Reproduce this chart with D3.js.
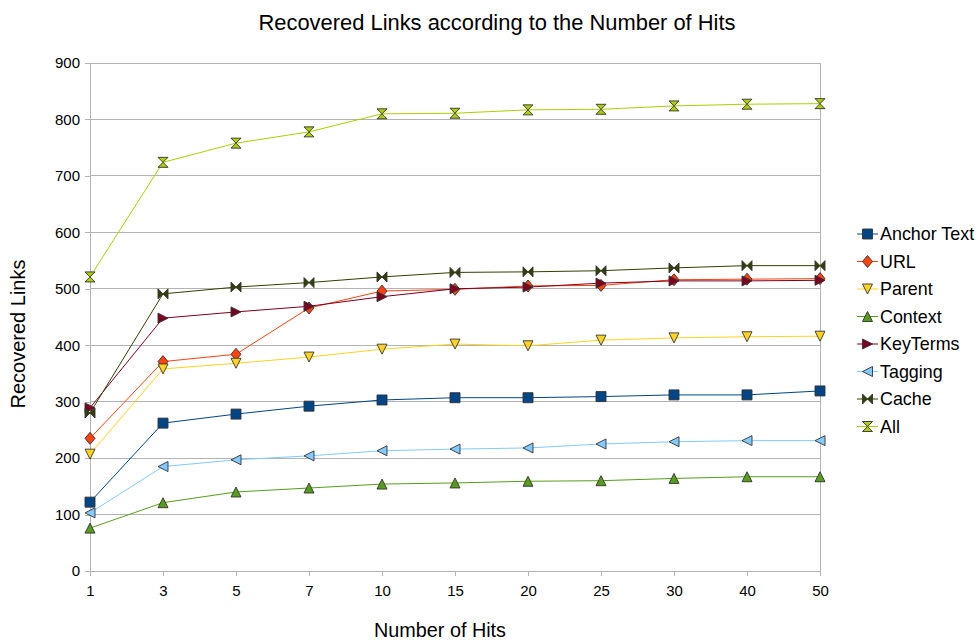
<!DOCTYPE html>
<html>
<head>
<meta charset="utf-8">
<script src="https://cdn.jsdelivr.net/npm/d3@7"></script>
<style>
  html, body { margin: 0; padding: 0; background: #fff; }
  svg { display: block; font-family: "Liberation Sans", Arial, sans-serif; }
</style>
</head>
<body>
<svg id="chart" width="978" height="640"></svg>
<script>
// Number of hits considered (categorical x axis)
const hits = ["1", "3", "5", "7", "10", "15", "20", "25", "30", "40", "50"];

// Recovered links per feature
const anchorText = [122, 262, 278, 292, 303, 307, 307, 309, 312, 312, 319];
const url        = [235, 371, 384, 466, 496, 499, 505, 506, 516, 517, 518];
const parent     = [207, 358, 368, 379, 393, 402, 399, 409, 413, 415, 416];
const context    = [76, 121, 140, 147, 154, 156, 159, 160, 164, 167, 167];
const keyTerms   = [289, 448, 459, 469, 486, 500, 503, 510, 514, 514, 515];
const tagging    = [103, 185, 197, 204, 213, 216, 218, 225, 229, 231, 231];
const cache      = [280, 491, 503, 511, 521, 529, 530, 532, 537, 541, 541];
const all        = [521, 724, 758, 778, 810, 811, 817, 818, 824, 827, 828];

const yTicks = [0, 100, 200, 300, 400, 500, 600, 700, 800, 900];

const series = [
  { name: "Anchor Text", values: anchorText, color: "#004586", shape: "square" },
  { name: "URL",         values: url,        color: "#ff420e", shape: "diamond" },
  { name: "Parent",      values: parent,     color: "#ffd320", shape: "down" },
  { name: "Context",     values: context,    color: "#579d1c", shape: "up" },
  { name: "KeyTerms",    values: keyTerms,   color: "#7e0021", shape: "right" },
  { name: "Tagging",     values: tagging,    color: "#83caff", shape: "left" },
  { name: "Cache",       values: cache,      color: "#314004", shape: "bowtie" },
  { name: "All",         values: all,        color: "#aecf00", shape: "hourglass" }
];

const svg = d3.select("#chart");
const plot = { left: 90, right: 820, top: 63, bottom: 571 };

const x = d3.scalePoint().domain(hits).range([plot.left, plot.right]);
const y = d3.scaleLinear().domain([0, 900]).range([plot.bottom, plot.top]);

const gridColor = "#b3b3b3";

// Horizontal gridlines
svg.append("g")
  .selectAll("line")
  .data(yTicks)
  .join("line")
  .attr("x1", plot.left).attr("x2", plot.right)
  .attr("y1", d => y(d)).attr("y2", d => y(d))
  .attr("stroke", gridColor).attr("stroke-width", 1)
  .attr("shape-rendering", "crispEdges");

// Right border of the plot area
svg.append("line")
  .attr("x1", plot.right).attr("x2", plot.right)
  .attr("y1", plot.top).attr("y2", plot.bottom)
  .attr("stroke", gridColor).attr("shape-rendering", "crispEdges");

// Y axis
const yAxis = svg.append("g")
  .attr("transform", `translate(${plot.left},0)`)
  .call(d3.axisLeft(y).tickValues(yTicks).tickSize(5).tickPadding(5));
yAxis.select(".domain").attr("stroke", gridColor).attr("shape-rendering", "crispEdges");
yAxis.selectAll(".tick line").attr("stroke", gridColor).attr("shape-rendering", "crispEdges");
yAxis.selectAll(".tick text").attr("font-size", 15).attr("fill", "#000")
  .attr("font-family", "Liberation Sans, Arial, sans-serif");

// X axis
const xAxis = svg.append("g")
  .attr("transform", `translate(0,${plot.bottom})`)
  .call(d3.axisBottom(x).tickSize(5).tickPadding(9));
xAxis.select(".domain").attr("stroke", gridColor).attr("shape-rendering", "crispEdges");
xAxis.selectAll(".tick line").attr("stroke", gridColor).attr("shape-rendering", "crispEdges");
xAxis.selectAll(".tick text").attr("font-size", 15).attr("fill", "#000")
  .attr("font-family", "Liberation Sans, Arial, sans-serif");

// Marker outlines for each symbol type, centred on the origin
function markerPath(shape, r) {
  switch (shape) {
    case "square": return `M${-r},${-r}H${r}V${r}H${-r}Z`;
    case "diamond": return `M0,${-r - 1}L${r},0L0,${r + 1}L${-r},0Z`;
    case "down": return `M${-r},${-r}H${r}L0,${r}Z`;
    case "up": return `M${-r},${r}H${r}L0,${-r}Z`;
    case "right": return `M${-r},${-r}L${r},0L${-r},${r}Z`;
    case "left": return `M${r},${-r}L${-r},0L${r},${r}Z`;
    case "bowtie": return `M${-r},${-r}L0,0L${-r},${r}Z M${r},${-r}L0,0L${r},${r}Z`;
    case "hourglass": return `M${-r},${-r}H${r}L0,0Z M${-r},${r}H${r}L0,0Z`;
  }
}

const line = d3.line().x((d, i) => x(hits[i])).y(d => y(d));

// Series lines
svg.append("g")
  .selectAll("path")
  .data(series)
  .join("path")
  .attr("d", s => line(s.values))
  .attr("fill", "none")
  .attr("stroke", s => s.color)
  .attr("stroke-width", 1);

// Series markers
series.forEach(s => {
  svg.append("g")
    .selectAll("path")
    .data(s.values)
    .join("path")
    .attr("transform", (d, i) => `translate(${x(hits[i])},${y(d)})`)
    .attr("d", markerPath(s.shape, 5))
    .attr("fill", s.color)
    .attr("stroke", "#333")
    .attr("stroke-width", 0.9)
    .attr("stroke-linejoin", "miter");
});

// Legend
const legend = svg.append("g").attr("transform", "translate(857,234)");
const rows = legend.selectAll("g")
  .data(series)
  .join("g")
  .attr("transform", (d, i) => `translate(0,${i * 27.5})`);
rows.append("line")
  .attr("x1", 0).attr("x2", 21).attr("y1", 0).attr("y2", 0)
  .attr("stroke", d => d.color).attr("stroke-width", 1);
rows.append("path")
  .attr("transform", "translate(10.5,0)")
  .attr("d", d => markerPath(d.shape, 5))
  .attr("fill", d => d.color)
  .attr("stroke", "#333")
  .attr("stroke-width", 0.9);
rows.append("text")
  .attr("x", 23).attr("y", 0).attr("dy", "0.35em")
  .attr("font-size", 17.9)
  .text(d => d.name);

// Title and axis labels
svg.append("text")
  .attr("x", 497).attr("y", 30)
  .attr("text-anchor", "middle")
  .attr("font-size", 21.9)
  .text("Recovered Links according to the Number of Hits");

svg.append("text")
  .attr("transform", "translate(25,334) rotate(-90)")
  .attr("text-anchor", "middle")
  .attr("font-size", 20)
  .text("Recovered Links");

svg.append("text")
  .attr("x", 440).attr("y", 637)
  .attr("text-anchor", "middle")
  .attr("font-size", 19.8)
  .text("Number of Hits");
</script>
</body>
</html>
